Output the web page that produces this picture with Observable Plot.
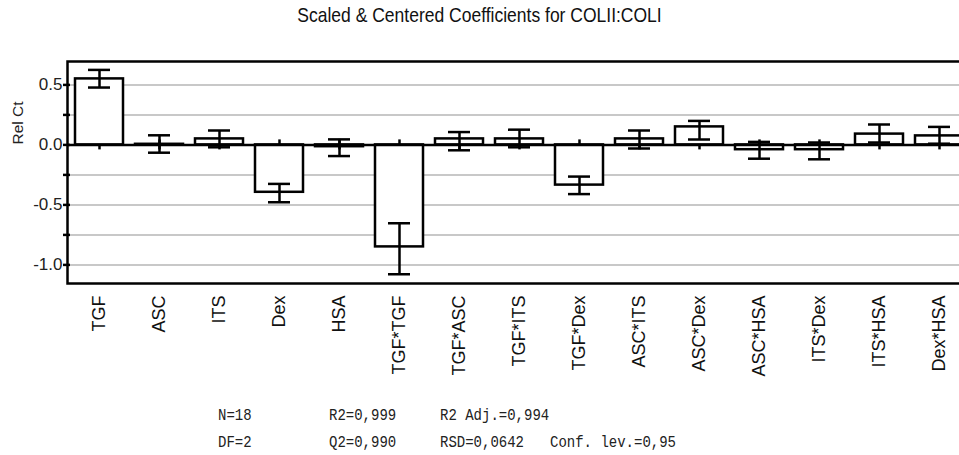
<!DOCTYPE html>
<html>
<head>
<meta charset="utf-8">
<script src="https://cdn.jsdelivr.net/npm/d3@7"></script>
<script src="https://cdn.jsdelivr.net/npm/@observablehq/plot@0.6"></script>
<style>
  body { margin: 0; background: #fff; }
  #wrap { position: relative; width: 959px; height: 455px; overflow: hidden; background: #fff;
          font-family: "Liberation Sans", Arial, sans-serif; color: #111; }
  #title { position: absolute; left: 0; top: 5px; width: 959px; text-align: center; font-size: 17.5px;
           transform: scaleY(1.15); }
  #chart { position: absolute; left: 0; top: 30px; }
  .stat { position: absolute; font-family: "Liberation Mono", "DejaVu Sans Mono", monospace; font-size: 14px;
          white-space: pre; color: #222; transform: scaleY(1.2); transform-origin: left center; }
</style>
</head>
<body>
<div id="wrap">
  <div id="title">Scaled &amp; Centered Coefficients for COLII:COLI</div>
  <div id="chart"></div>
  <div class="stat" style="left:218px;top:407px">N=18</div>
  <div class="stat" style="left:329px;top:407px">R2=0,999</div>
  <div class="stat" style="left:440px;top:407px">R2 Adj.=0,994</div>
  <div class="stat" style="left:218px;top:434px">DF=2</div>
  <div class="stat" style="left:329px;top:434px">Q2=0,990</div>
  <div class="stat" style="left:440px;top:434px">RSD=0,0642</div>
  <div class="stat" style="left:550px;top:434px">Conf. lev.=0,95</div>
</div>
<script>
const categories = ["TGF","ASC","ITS","Dex","HSA","TGF*TGF","TGF*ASC","TGF*ITS","TGF*Dex","ASC*ITS","ASC*Dex","ASC*HSA","ITS*Dex","ITS*HSA","Dex*HSA"];
const coef    = [0.55, 0.005, 0.05, -0.395, -0.015, -0.85, 0.05, 0.05, -0.335, 0.05, 0.15, -0.04, -0.04, 0.09, 0.075];
const errLow  = [0.478, -0.065, -0.02, -0.478, -0.093, -1.078, -0.045, -0.02, -0.41, -0.03, 0.045, -0.115, -0.12, 0.02, 0.01];
const errHigh = [0.625, 0.08, 0.12, -0.325, 0.046, -0.653, 0.107, 0.127, -0.264, 0.12, 0.2, 0.025, 0.02, 0.17, 0.15];
const yLabelTicks = [0.5, 0, -0.5, -1];
const yMinorTicks = [0.5, 0.25, 0, -0.25, -0.5, -0.75, -1];
const gridTicks = [0.5, 0.25, -0.25, -0.5, -0.75, -1];

const data = categories.map((c, i) => ({cat: c, coef: coef[i], lo: errLow[i], hi: errHigh[i]}));

const chart = Plot.plot({
  width: 959,
  height: 365,
  marginTop: 31,
  marginLeft: 67,
  marginRight: -10,
  marginBottom: 112,
  style: {fontFamily: "'Liberation Sans', Arial, sans-serif", background: "white", color: "#111"},
  x: {domain: categories, range: [68, 969.5], padding: 0},
  y: {domain: [-1.155, 0.695]},
  marks: [
    Plot.gridY(gridTicks, {stroke: "#c8c8c8", strokeOpacity: 1, strokeWidth: 2}),
    Plot.ruleX(data, {x: "cat", y1: 0, y2: 0, insetTop: -5, insetBottom: -5, stroke: "black", strokeWidth: 2.5}),
    Plot.barY(data, {x: "cat", y: "coef", fill: "white", stroke: "black", strokeWidth: 2.5, insetLeft: 6, insetRight: 6}),
    Plot.ruleY([0], {stroke: "black", strokeWidth: 2.5}),
    Plot.ruleX(data, {x: "cat", y1: "lo", y2: "hi", stroke: "black", strokeWidth: 2.5}),
    Plot.tickY(data, {x: "cat", y: "lo", insetLeft: 19, insetRight: 19, stroke: "black", strokeWidth: 2.5}),
    Plot.tickY(data, {x: "cat", y: "hi", insetLeft: 19, insetRight: 19, stroke: "black", strokeWidth: 2.5}),
    Plot.frame({stroke: "black", strokeWidth: 2.5}),
    Plot.axisY(yMinorTicks, {tickSize: 7, dx: 3, tickFormat: () => "", stroke: "black", strokeWidth: 2.5}),
    Plot.axisY(yLabelTicks, {tickSize: 0, tickPadding: 5, tickFormat: d => d.toFixed(1), fontSize: 17, fill: "#222", label: null}),
    Plot.axisX({tickRotate: -90, tickSize: 0, tickPadding: 12, fontSize: 18, fill: "#111", label: null}),
    Plot.text(["Rel Ct"], {text: d => d, frameAnchor: "left", rotate: -90, dx: -49, dy: -28, fontSize: 15.5, fill: "#222"})
  ]
});
document.getElementById("chart").appendChild(chart);
</script>
</body>
</html>
